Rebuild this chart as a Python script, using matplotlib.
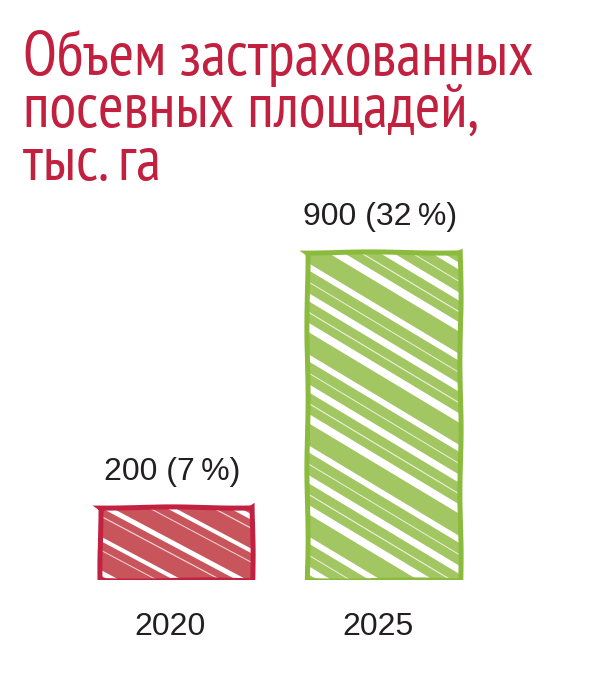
import matplotlib.pyplot as plt
import numpy as np

# data
years = ['2020', '2025']
values = [200, 900]
labels = ['200 (7\u2009%)', '900 (32\u2009%)']

title = 'Объем застрахованных\nпосевных площадей,\nтыс. га'
title_color = '#c2203f'
fill_colors = ['#c9555c', '#a2c762']
edge_colors = ['#c2213f', '#8bbb3c']
text_color = '#231f20'

fig = plt.figure(figsize=(5.95, 6.82), dpi=100)
fig.text(0.038, 0.957, title, color=title_color, fontsize=44.5,
         family=['PT Sans Narrow', 'DejaVu Sans'],
         va='top', ha='left', linespacing=0.92)

ax = fig.add_axes([0, 0.15, 1, 0.534])
ax.set_xlim(-0.846, 2.015)
ax.set_ylim(0, 1000)

# pixel -> data scale for the stripe decoration
PX_X = 208.0
PX_Y = 0.364

bars = ax.bar(range(len(values)), values, width=0.735, color=fill_colors,
              linewidth=0, zorder=2)

# white scribble gaps, clipped to each bar: (angle, spacing px, widths px)
stripe_specs = [
    (28, 20, [5, 0, 1, 4, 0, 1.2]),
    (31, 26, [7, 1, 6, 0, 8, 1.2]),
]
for bar, (ang, step, widths) in zip(bars, stripe_specs):
    x0, w, h = bar.get_x(), bar.get_width(), bar.get_height()
    wpx, hpx = w * PX_X, h * PX_Y
    t = np.tan(np.radians(ang))
    dc = step / np.cos(np.radians(ang))
    xs = np.array([-10.0, wpx + 10.0])
    k = 0
    for c in np.arange(dc / 3, hpx + wpx * t + dc, dc / 2.0):
        lw = widths[k % len(widths)]
        k += 1
        if lw == 0:
            continue
        ys = c - t * xs
        alpha = 1.0 if lw > 2 else 0.75
        ln, = ax.plot(x0 + xs / PX_X, ys / PX_Y, color='white', lw=lw * 0.72,
                      alpha=alpha, solid_capstyle='round', zorder=3)
        ln.set_clip_path(bar)

# hand-drawn looking outline
for i, v in enumerate(values):
    outline = ax.bar(i, v, width=0.735, facecolor='none', edgecolor=edge_colors[i],
                     linewidth=3.6, zorder=4)[0]
    outline.set_sketch_params(0.6, 150, 2)

for i, v in enumerate(values):
    ax.annotate(labels[i], (i, v), xytext=(-3, 14), textcoords='offset points',
                ha='center', va='bottom', fontsize=23, color=text_color,
                family=['Liberation Sans', 'DejaVu Sans'])
    ax.annotate(years[i], (i, 0), xytext=(-4, -23), textcoords='offset points',
                ha='center', va='top', fontsize=23, color=text_color,
                family=['Liberation Sans', 'DejaVu Sans'])

ax.set_xticks([])
ax.set_yticks([])
for s in ax.spines.values():
    s.set_visible(False)

fig.savefig('out.png', dpi=100)
